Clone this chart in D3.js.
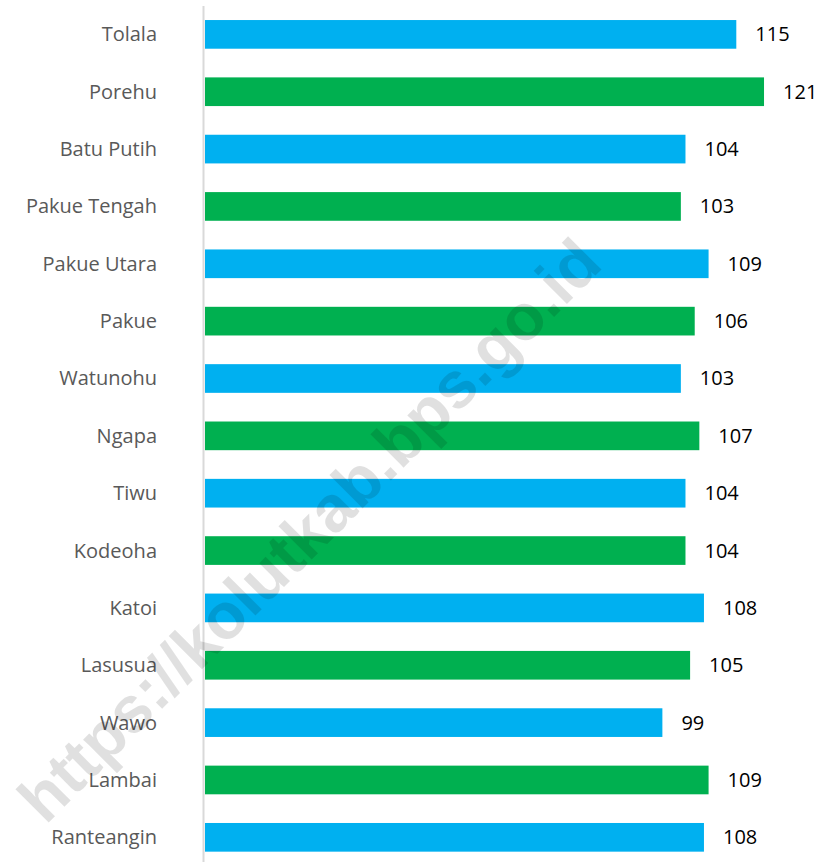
<!DOCTYPE html>
<html>
<head>
<meta charset="utf-8">
<script src="https://cdn.jsdelivr.net/npm/d3@7"></script>
<style>
  html, body { margin: 0; padding: 0; background: #fff; }
  svg { display: block; }
</style>
</head>
<body>
<div id="chart"></div>
<script>
// dimensions
const width = 823;
const height = 862;

// data
const categories = ["Tolala", "Porehu", "Batu Putih", "Pakue Tengah", "Pakue Utara", "Pakue",
  "Watunohu", "Ngapa", "Tiwu", "Kodeoha", "Katoi", "Lasusua", "Wawo", "Lambai", "Ranteangin"];
const values = [115, 121, 104, 103, 109, 106, 103, 107, 104, 104, 108, 105, 99, 109, 108];
const barColors = ["#00B0F0", "#00B050"];
const watermark = "https://kolutkab.bps.go.id";

const rows = categories.map((c, i) => ({ name: c, value: values[i], i }));

const svg = d3.select("#chart").append("svg")
  .attr("width", width)
  .attr("height", height);

const x = d3.scaleLinear()
  .domain([0, 125])
  .range([205, 205 + 125 * 4.62]);

const y = d3.scaleBand()
  .domain(categories)
  .range([5.7, 866])
  .paddingInner(0.5)
  .paddingOuter(0.25);

// barres
svg.append("g")
  .selectAll("rect")
  .data(rows)
  .join("rect")
  .attr("x", x(0))
  .attr("y", d => y(d.name))
  .attr("width", d => x(d.value) - x(0))
  .attr("height", y.bandwidth())
  .attr("fill", d => barColors[d.i % 2]);

// axe vertical
svg.append("line")
  .attr("x1", 203.5).attr("x2", 203.5)
  .attr("y1", 6).attr("y2", height)
  .attr("stroke", "#d9d9d9")
  .attr("stroke-width", 2);

// noms des categories
svg.append("g")
  .selectAll("text")
  .data(rows)
  .join("text")
  .attr("x", 157)
  .attr("y", d => y(d.name) + y.bandwidth() / 2)
  .attr("dy", "0.35em")
  .attr("text-anchor", "end")
  .attr("fill", "#595959")
  .style("font-family", "'Open Sans', 'Noto Sans', sans-serif")
  .style("font-size", "20px")
  .text(d => d.name);

// valeurs
svg.append("g")
  .selectAll("text")
  .data(rows)
  .join("text")
  .attr("x", d => x(d.value) + 19)
  .attr("y", d => y(d.name) + y.bandwidth() / 2)
  .attr("dy", "0.35em")
  .attr("fill", "#000")
  .style("font-family", "'Open Sans', 'Noto Sans', sans-serif")
  .style("font-size", "20px")
  .text(d => d.value);

// filigrane
svg.append("text")
  .attr("transform", "translate(309,530) rotate(-45)")
  .attr("text-anchor", "middle")
  .attr("dy", "0.35em")
  .attr("fill", "#000")
  .attr("fill-opacity", 0.12)
  .style("font-family", "'Liberation Sans', Arial, sans-serif")
  .style("font-weight", "bold")
  .style("font-size", "65px")
  .text(watermark);
</script>
</body>
</html>
